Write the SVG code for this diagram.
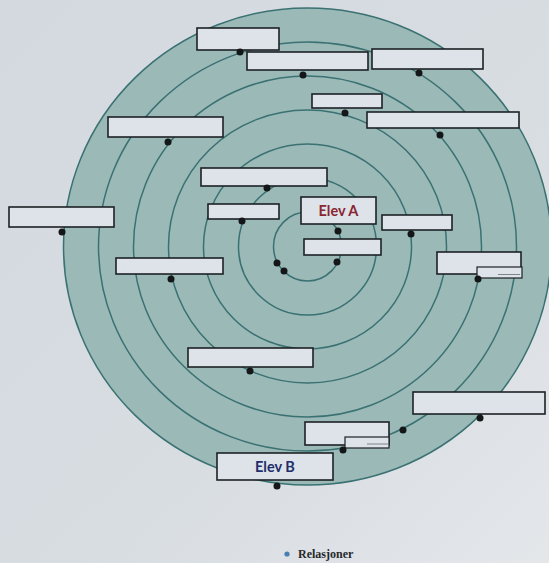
<svg xmlns="http://www.w3.org/2000/svg" width="549" height="563" viewBox="0 0 549 563">
  <defs>
    <linearGradient id="paper" x1="0" y1="0" x2="1" y2="1">
      <stop offset="0" stop-color="#d3d9df"/>
      <stop offset="0.6" stop-color="#d8dde2"/>
      <stop offset="1" stop-color="#e4e7ea"/>
    </linearGradient>
    <style>
      .ring { fill: none; stroke: #3a7172; stroke-width: 1.5; }
      .disk { fill: #9bb9b6; stroke: #3a7172; stroke-width: 1.5; }
      .box { fill: #dde3e9; stroke: #1d2125; stroke-width: 1.6; }
      .sub { fill: #dde3e9; stroke: #1d2125; stroke-width: 1.2; }
      .rule { stroke: #7d8488; stroke-width: 1; }
      .dot { fill: #141618; }
      .name { font-family: Lato, "Open Sans", "Liberation Sans", sans-serif; font-weight: bold; font-size: 14.5px; text-anchor: middle; }
    </style>
  </defs>

  <!-- paper -->
  <rect x="0" y="0" width="549" height="563" fill="url(#paper)"/>

  <!-- concentric relation rings -->
  <g id="connectors">
    <ellipse class="disk" cx="307.5" cy="246.5" rx="244" ry="238.5"/>
    <ellipse class="ring" cx="307.5" cy="246.5" rx="209" ry="204.5"/>
    <ellipse class="ring" cx="307.5" cy="246.5" rx="174" ry="170.5"/>
    <ellipse class="ring" cx="307.5" cy="246.5" rx="139" ry="136.5"/>
    <ellipse class="ring" cx="307.5" cy="246.5" rx="104" ry="102.5"/>
    <ellipse class="ring" cx="307.5" cy="246.5" rx="69" ry="68.5"/>
    <ellipse class="ring" cx="307.5" cy="246.5" rx="34" ry="34.5"/>
  </g>

  <!-- label slots -->
  <g id="slot-a"><rect class="box" x="197" y="28" width="82" height="22"/><circle class="dot" cx="240" cy="52" r="3.5"/></g>
  <g id="slot-b"><rect class="box" x="247" y="52" width="121" height="18"/><circle class="dot" cx="303" cy="75" r="3.5"/></g>
  <g id="slot-g"><rect class="box" x="372" y="49" width="111" height="20"/><circle class="dot" cx="419" cy="73" r="3.5"/></g>
  <g id="slot-h"><rect class="box" x="312" y="94" width="70" height="14"/><circle class="dot" cx="345" cy="113" r="3.5"/></g>
  <g id="slot-i"><rect class="box" x="367" y="112" width="152" height="16"/><circle class="dot" cx="440" cy="135" r="3.5"/></g>
  <g id="slot-c"><rect class="box" x="108" y="117" width="115" height="20"/><circle class="dot" cx="168" cy="142" r="3.5"/></g>
  <g id="slot-d"><rect class="box" x="201" y="168" width="126" height="18"/><circle class="dot" cx="267" cy="188" r="3.5"/></g>
  <g id="slot-e"><rect class="box" x="208" y="204" width="71" height="15"/><circle class="dot" cx="242" cy="221" r="3.5"/></g>
  <g id="slot-f"><rect class="box" x="9" y="207" width="105" height="20"/><circle class="dot" cx="62" cy="232" r="3.5"/></g>
  <g id="slot-j"><rect class="box" x="382" y="215" width="70" height="15"/><circle class="dot" cx="411" cy="234" r="3.5"/></g>

  <g id="elev-a">
    <rect class="box" x="301" y="197" width="75" height="27"/>
    <text class="name" x="338.5" y="216" fill="#8a2634">Elev A</text>
    <circle class="dot" cx="338" cy="231" r="3.5"/>
  </g>
  <g id="slot-k">
    <rect class="box" x="304" y="239" width="77" height="16"/>
    <circle class="dot" cx="337" cy="262" r="3.5"/>
    <circle class="dot" cx="277" cy="263" r="3.5"/>
    <circle class="dot" cx="284" cy="271" r="3.5"/>
  </g>
  <g id="slot-l">
    <rect class="box" x="437" y="252" width="84" height="22"/>
    <rect class="sub" x="477" y="267" width="45" height="11"/>
    <line class="rule" x1="498" y1="274.5" x2="520" y2="274.5"/>
    <circle class="dot" cx="478" cy="279" r="3.5"/>
  </g>
  <g id="slot-m"><rect class="box" x="116" y="258" width="107" height="16"/><circle class="dot" cx="171" cy="279" r="3.5"/></g>
  <g id="slot-n"><rect class="box" x="188" y="348" width="125" height="19"/><circle class="dot" cx="250" cy="371" r="3.5"/></g>
  <g id="slot-o"><rect class="box" x="413" y="392" width="132" height="22"/><circle class="dot" cx="480" cy="418" r="3.5"/></g>
  <g id="slot-p">
    <rect class="box" x="305" y="422" width="84" height="23"/>
    <rect class="sub" x="345" y="437" width="44" height="11"/>
    <line class="rule" x1="367" y1="444" x2="388" y2="444"/>
    <circle class="dot" cx="343" cy="450" r="3.5"/>
    <circle class="dot" cx="403" cy="430" r="3.5"/>
  </g>
  <g id="elev-b">
    <rect class="box" x="217" y="453" width="116" height="27"/>
    <text class="name" x="275" y="472" fill="#1f2d6b">Elev B</text>
    <circle class="dot" cx="277" cy="486" r="3.5"/>
  </g>

  <!-- legend -->
  <g id="legend">
    <circle cx="287" cy="554" r="2.6" fill="#4a7db3"/>
    <text x="298" y="558" font-family="'Liberation Serif', serif" font-weight="bold" font-size="12" fill="#26292c">Relasjoner</text>
  </g>
</svg>
